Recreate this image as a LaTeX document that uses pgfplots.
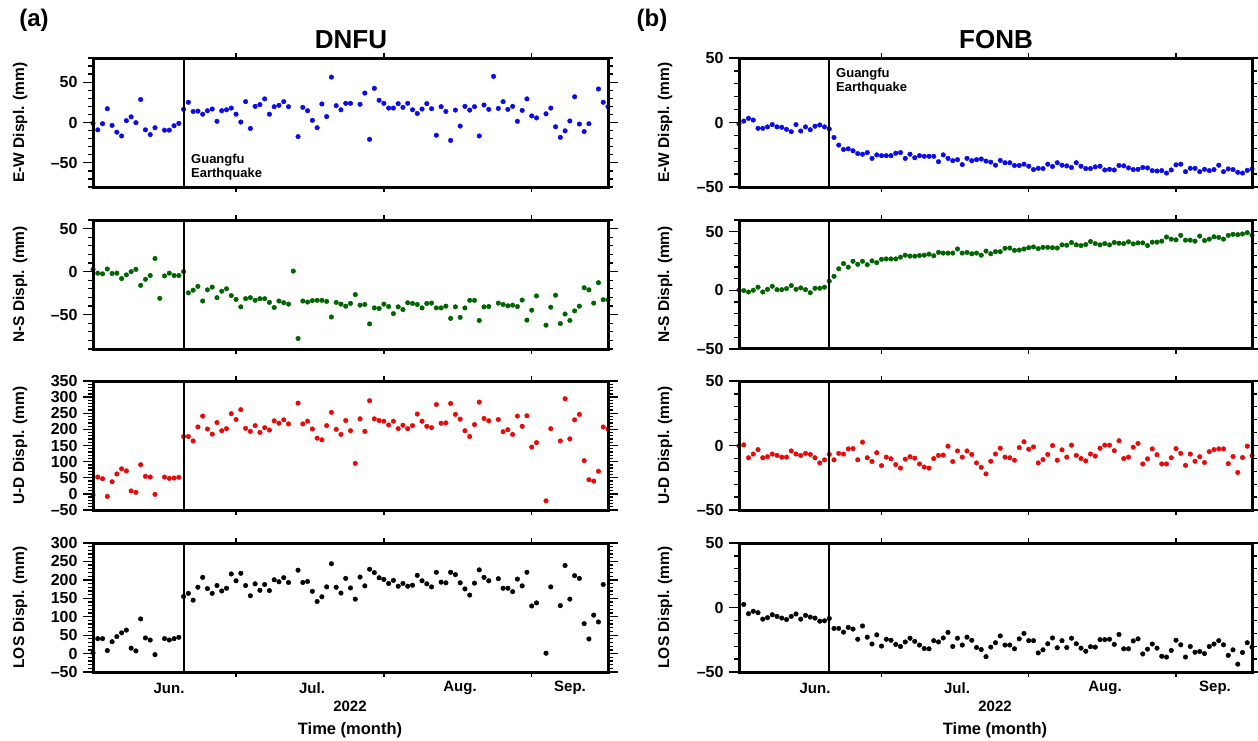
\documentclass[border=0pt]{standalone}
\usepackage{fontspec}
\setmainfont{Liberation Sans}
\usepackage{pgfplots}
\pgfplotsset{compat=1.18}
\definecolor{gblue}{RGB}{10,10,235}
\definecolor{ggreen}{RGB}{0,100,0}
\definecolor{gred}{RGB}{230,10,10}
\pgfplotsset{
  panel/.style={
    scale only axis, height=129pt, xmin=0, xmax=108,
    axis on top, clip mode=individual,
    axis line style={line width=3pt},
    tick align=outside, major tick length=10pt, minor tick length=5pt,
    tick style={black, line width=1.3pt},
    xtick=\empty,
    extra x ticks={30,61,92}, extra x tick labels={},
    extra x tick style={major tick length=5pt, tick style={black, line width=1.3pt}},
    yticklabel style={font=\fontsize{16}{16}\selectfont\bfseries, xshift=-2pt},
    ylabel style={font=\fontsize{15.5}{16}\selectfont\bfseries},
  },
  leftpanel/.style={panel, width=515pt, ylabel style={at={(axis description cs:-0.1417,0.5)}, anchor=center}},
  rightpanel/.style={panel, width=513pt, ylabel style={at={(axis description cs:-0.1442,0.5)}, anchor=center}},
  mk/.style={only marks, mark=*, mark size=2.3pt, color=#1, mark options={fill=#1, draw=#1}},
  eq/.style={black, line width=2pt, mark=none, forget plot},
}
\newcommand{\mon}{\fontsize{15}{15}\selectfont\bfseries}
\begin{document}
\begin{tikzpicture}
\useasboundingbox (0,0) rectangle (1258pt,-740pt);
% ---------------- DNFU ----------------
\begin{axis}[leftpanel, at={(93pt,-58pt)}, anchor=north west, ymin=-80, ymax=80,
  ytick={-50,0,50}, yticklabels={–50,0,50}, minor ytick={-80,-70,...,80}, ylabel={E-W Displ. (mm)}]
\addplot[mk=gblue] coordinates {(0,-1.1)(1,-9.1)(2,-1.5)(3,17.1)(4,-3.6)(5,-12.0)(6,-16.7)(7,2.3)(8,7.0)(9,-0.2)(10,28.5)(11,-9.1)(12,-15.0)(13,-6.5)(15,-9.5)(16,-9.5)(17,-4.0)(18,-1.1)(19,16.3)(20,25.1)(21,13.7)(22,14.1)(23,10.3)(24,14.6)(25,16.7)(26,1.5)(27,14.6)(28,15.8)(29,17.9)(30,10.3)(31,0.6)(32,25.9)(33,-7.4)(34,20.0)(35,22.2)(36,29.3)(37,10.3)(38,19.6)(39,21.3)(40,25.9)(41,19.6)(43,-17.5)(44,18.8)(45,14.6)(46,2.7)(47,-6.5)(48,23.0)(49,7.4)(50,56.3)(51,20.9)(52,15.8)(53,23.8)(54,23.8)(56,22.6)(57,36.5)(58,-20.9)(59,42.4)(60,27.6)(61,23.8)(62,17.9)(63,17.9)(64,23.4)(65,18.8)(66,23.8)(67,15.8)(68,11.2)(69,16.7)(70,23.4)(71,17.1)(72,-15.8)(73,19.6)(74,13.7)(75,-22.2)(76,15.4)(77,-4.4)(78,20.0)(79,15.4)(80,19.6)(81,-16.7)(82,21.7)(83,16.3)(84,57.2)(85,17.5)(86,25.9)(87,16.3)(88,20.0)(89,1.5)(90,15.0)(91,29.3)(92,8.2)(93,5.7)(95,10.8)(96,17.9)(97,-5.3)(98,-18.4)(99,-10.3)(100,1.9)(101,31.9)(102,-1.9)(103,-11.2)(104,-1.5)(106,41.6)(107,25.1)(108,19.6)};
\addplot[eq] coordinates {(19,-80)(19,80)};
\end{axis}
\begin{axis}[leftpanel, at={(93pt,-220pt)}, anchor=north west, ymin=-90, ymax=60,
  ytick={-50,0,50}, yticklabels={–50,0,50}, minor ytick={-90,-80,...,60}, ylabel={N-S Displ. (mm)}]
\addplot[mk=ggreen] coordinates {(0,2.6)(1,-1.8)(2,-2.6)(3,3.0)(4,-2.2)(5,-1.8)(6,-8.1)(7,-3.8)(8,0.0)(9,2.6)(10,-16.0)(11,-8.9)(12,-4.5)(13,15.2)(14,-31.1)(15,-5.0)(16,-1.8)(17,-4.5)(18,-4.5)(19,0.0)(20,-24.7)(21,-21.6)(22,-17.2)(23,-34.2)(24,-21.2)(25,-18.0)(26,-30.3)(27,-22.8)(28,-20.0)(29,-27.9)(30,-32.3)(31,-41.0)(32,-31.5)(33,-30.3)(34,-33.4)(35,-31.5)(36,-31.5)(37,-35.8)(38,-41.8)(39,-34.2)(40,-36.2)(41,-37.8)(42,0.6)(43,-77.8)(44,-34.2)(45,-35.4)(46,-33.8)(47,-33.4)(48,-33.4)(49,-34.6)(50,-52.8)(51,-35.8)(52,-37.8)(53,-40.2)(54,-37.0)(55,-26.7)(56,-39.0)(57,-38.2)(58,-60.8)(59,-42.2)(60,-42.9)(61,-37.8)(62,-40.6)(63,-48.9)(64,-41.0)(65,-44.1)(66,-36.2)(67,-37.0)(68,-38.2)(69,-42.2)(70,-37.0)(71,-36.6)(72,-42.2)(73,-42.2)(74,-40.2)(75,-54.4)(76,-41.0)(77,-53.2)(78,-42.2)(79,-33.4)(80,-33.4)(81,-56.8)(82,-41.0)(83,-40.6)(85,-36.6)(86,-38.2)(87,-39.8)(88,-39.0)(89,-40.6)(90,-33.1)(91,-56.4)(92,-44.9)(93,-28.3)(95,-62.3)(96,-41.4)(97,-27.5)(98,-60.4)(99,-49.3)(100,-56.8)(101,-45.7)(102,-40.2)(103,-18.8)(104,-21.2)(105,-36.6)(106,-12.9)(107,-32.7)(108,-32.7)};
\addplot[eq] coordinates {(19,-90)(19,60)};
\end{axis}
\begin{axis}[leftpanel, at={(93pt,-381pt)}, anchor=north west, ymin=-50, ymax=350,
  ytick={-50,0,...,350}, yticklabels={–50,0,50,100,150,200,250,300,350}, minor ytick={-50,-40,...,350}, ylabel={U-D Displ. (mm)}]
\addplot[mk=gred] coordinates {(0,-3.6)(1,52.3)(2,47.1)(3,-7.8)(4,37.6)(5,61.8)(6,77.7)(7,71.3)(8,9.1)(9,4.8)(10,90.3)(11,54.5)(12,52.3)(13,-1.5)(15,52.3)(16,48.1)(17,49.2)(18,51.3)(19,177.9)(20,177.9)(21,164.2)(22,207.5)(23,241.3)(24,201.2)(25,185.3)(26,221.2)(27,195.9)(28,202.2)(29,248.7)(30,230.7)(31,261.3)(32,203.3)(33,193.8)(34,211.7)(35,190.6)(36,205.4)(37,198.0)(38,226.5)(39,219.1)(40,229.7)(41,217.0)(43,281.4)(44,217.0)(45,225.4)(46,201.2)(47,172.7)(48,167.4)(49,211.7)(50,252.9)(51,200.1)(52,184.3)(53,227.5)(54,195.9)(55,94.6)(56,232.8)(57,193.8)(58,288.8)(59,232.8)(60,227.5)(61,225.4)(62,213.8)(63,225.4)(64,202.2)(65,212.8)(66,202.2)(67,211.7)(68,247.6)(69,225.4)(70,209.6)(71,205.4)(72,277.1)(73,219.1)(74,220.2)(75,280.3)(76,246.5)(77,231.8)(78,195.9)(79,177.9)(80,214.9)(81,284.5)(82,233.9)(83,226.5)(85,230.7)(86,192.7)(87,199.0)(88,184.3)(89,241.3)(90,209.6)(91,242.3)(92,145.2)(93,158.9)(95,-21.5)(96,202.2)(98,164.2)(99,295.1)(100,170.6)(101,229.7)(102,246.5)(103,103.0)(104,43.9)(105,39.7)(106,70.3)(107,207.5)(108,201.2)};
\addplot[eq] coordinates {(19,-50)(19,350)};
\end{axis}
\begin{axis}[leftpanel, at={(93pt,-543pt)}, anchor=north west, ymin=-50, ymax=300,
  ytick={-50,0,...,300}, yticklabels={–50,0,50,100,150,200,250,300}, minor ytick={-50,-40,...,300}, ylabel={LOS Displ. (mm)}]
\addplot[mk=black] coordinates {(0,1.9)(1,40.5)(2,40.5)(3,8.2)(4,32.2)(5,46.1)(6,56.2)(7,63.6)(8,14.7)(9,7.3)(10,94.1)(11,42.4)(12,36.8)(13,-2.9)(15,40.5)(16,36.8)(17,40.5)(18,44.2)(19,155.0)(20,163.4)(21,144.9)(22,180.0)(23,206.8)(24,176.3)(25,163.4)(26,184.6)(27,169.8)(28,177.2)(29,216.0)(30,197.5)(31,217.8)(32,184.6)(33,156.9)(34,189.2)(35,171.7)(36,187.4)(37,170.8)(38,200.3)(39,194.8)(40,205.8)(41,192.9)(43,226.2)(44,192.9)(45,195.7)(46,168.9)(47,141.2)(48,154.1)(49,180.9)(50,243.7)(51,180.0)(52,164.3)(53,204.0)(54,178.1)(55,147.7)(56,207.7)(57,183.7)(58,228.9)(59,219.7)(60,205.8)(61,201.2)(62,190.2)(63,198.5)(64,182.8)(65,190.2)(66,182.8)(67,185.5)(68,212.3)(69,197.5)(70,189.2)(71,180.9)(72,220.6)(73,193.8)(74,192.0)(75,220.6)(76,214.2)(77,192.0)(78,175.4)(79,158.8)(80,191.1)(81,227.1)(82,206.8)(83,197.5)(85,203.1)(86,177.2)(87,177.2)(88,168.0)(89,202.2)(90,183.7)(91,220.6)(92,129.2)(93,137.5)(95,1.0)(96,180.9)(98,130.1)(99,239.1)(100,147.7)(101,211.4)(102,204.0)(103,81.2)(104,39.6)(105,104.3)(106,85.8)(107,187.4)};
\addplot[eq] coordinates {(19,-50)(19,300)};
\end{axis}
% ---------------- FONB ----------------
\begin{axis}[rightpanel, at={(739pt,-58pt)}, anchor=north west, ymin=-50, ymax=50,
  ytick={-50,0,50}, yticklabels={–50,0,50}, minor ytick={-50,-40,...,50}, ylabel={E-W Displ. (mm)}]
\addplot[mk=gblue] coordinates {(0,-1.1)(1,1.1)(2,3.2)(3,1.9)(4,-4.5)(5,-4.5)(6,-3.4)(7,-1.6)(8,-3.4)(9,-3.7)(10,-5.3)(11,-7.1)(12,-1.6)(13,-6.6)(14,-3.4)(15,-5.6)(16,-2.9)(17,-1.9)(18,-3.4)(19,-5.0)(20,-11.6)(21,-17.5)(22,-20.9)(23,-20.4)(24,-21.9)(25,-24.1)(26,-24.6)(27,-23.3)(28,-27.8)(29,-25.1)(30,-25.7)(31,-25.7)(32,-25.7)(33,-23.8)(34,-23.3)(35,-27.8)(36,-24.6)(37,-27.3)(38,-25.7)(39,-26.2)(40,-26.2)(41,-26.2)(42,-30.4)(43,-25.1)(44,-27.8)(45,-29.6)(46,-28.8)(47,-32.6)(48,-27.8)(49,-29.6)(50,-28.8)(51,-28.3)(52,-29.9)(53,-30.7)(54,-33.1)(55,-29.4)(56,-31.2)(57,-31.2)(58,-33.3)(59,-33.3)(60,-32.3)(61,-33.9)(62,-36.5)(63,-35.5)(64,-35.7)(65,-32.3)(66,-34.1)(67,-31.2)(68,-33.1)(69,-33.6)(70,-34.9)(71,-31.2)(72,-33.9)(73,-35.7)(74,-35.7)(75,-34.4)(76,-33.9)(77,-36.8)(78,-36.3)(79,-36.8)(80,-33.3)(81,-33.6)(82,-35.2)(83,-36.5)(84,-36.3)(85,-34.9)(86,-35.2)(87,-37.3)(88,-37.6)(89,-37.3)(90,-39.2)(91,-36.8)(92,-32.8)(93,-32.3)(94,-38.1)(95,-35.5)(96,-35.5)(97,-38.1)(98,-36.3)(99,-37.3)(100,-36.5)(101,-33.1)(102,-38.1)(103,-36.0)(104,-36.5)(105,-38.6)(106,-39.2)(107,-37.1)(108,-36.0)};
\addplot[eq] coordinates {(19,-50)(19,50)};
\end{axis}
\begin{axis}[rightpanel, at={(739pt,-220pt)}, anchor=north west, ymin=-50, ymax=60,
  ytick={-50,0,50}, yticklabels={–50,0,50}, minor ytick={-50,-40,...,60}, ylabel={N-S Displ. (mm)}]
\addplot[mk=ggreen] coordinates {(0,0.4)(1,-0.2)(2,-1.4)(3,0.1)(4,2.7)(5,-1.4)(6,0.9)(7,3.5)(8,0.6)(9,0.6)(10,1.5)(11,4.1)(12,0.9)(13,2.1)(14,0.6)(15,-2.0)(16,1.8)(17,1.8)(18,2.7)(19,7.9)(20,12.0)(21,18.4)(22,22.8)(23,19.8)(24,24.8)(25,22.2)(26,24.8)(27,21.9)(28,25.1)(29,23.6)(30,26.5)(31,26.8)(32,26.8)(33,26.8)(34,28.3)(35,30.0)(36,29.2)(37,29.2)(38,29.7)(39,30.0)(40,30.9)(41,29.5)(42,32.4)(43,31.8)(44,31.8)(45,31.8)(46,35.3)(47,31.8)(48,32.4)(49,31.2)(50,31.8)(51,30.0)(52,33.5)(53,31.2)(54,33.0)(55,33.0)(56,35.9)(57,36.1)(58,34.1)(59,34.4)(60,35.3)(61,36.4)(62,37.0)(63,35.6)(64,36.7)(65,36.7)(66,36.4)(67,36.1)(68,38.8)(69,38.5)(70,40.8)(71,38.8)(72,38.2)(73,39.1)(74,41.7)(75,39.9)(76,38.8)(77,39.9)(78,38.8)(79,40.8)(80,40.2)(81,39.9)(82,41.4)(83,39.6)(84,40.5)(85,40.5)(86,38.2)(87,41.1)(88,41.1)(89,42.0)(90,45.5)(91,43.7)(92,43.1)(93,46.9)(94,42.8)(95,42.8)(96,42.0)(97,46.3)(98,42.5)(99,43.7)(100,45.7)(101,45.2)(102,43.7)(103,46.9)(104,47.8)(105,47.5)(106,48.1)(107,49.2)(108,46.9)};
\addplot[eq] coordinates {(19,-50)(19,60)};
\end{axis}
\begin{axis}[rightpanel, at={(739pt,-381pt)}, anchor=north west, ymin=-50, ymax=50,
  ytick={-50,0,50}, yticklabels={–50,0,50}, minor ytick={-50,-40,...,50}, ylabel={U-D Displ. (mm)}]
\addplot[mk=gred] coordinates {(0,-0.3)(1,0.5)(2,-9.5)(3,-6.6)(4,-3.2)(5,-9.5)(6,-8.7)(7,-6.6)(8,-7.7)(9,-9.0)(10,-9.0)(11,-4.2)(12,-6.6)(13,-7.7)(14,-6.1)(15,-6.9)(16,-9.5)(17,-13.5)(18,-11.1)(19,-6.9)(20,-11.1)(21,-6.1)(22,-6.6)(23,-2.6)(24,-2.4)(25,-11.1)(26,2.6)(27,-9.5)(28,-12.4)(29,-5.6)(30,-15.6)(31,-9.0)(32,-10.3)(33,-14.8)(34,-17.5)(35,-10.6)(36,-8.7)(37,-9.8)(38,-14.3)(39,-16.7)(40,-17.5)(41,-10.1)(42,-7.7)(43,-7.4)(44,-0.5)(45,-12.4)(46,-4.2)(47,-9.0)(48,-4.2)(49,-6.9)(50,-13.5)(51,-16.9)(52,-22.0)(53,-12.2)(54,-6.6)(55,-2.1)(56,-9.0)(57,-9.5)(58,-11.4)(59,-1.6)(60,2.9)(61,-2.9)(62,-1.1)(63,-13.5)(64,-10.9)(65,-6.9)(66,0.0)(67,-11.4)(68,-3.4)(69,-9.0)(70,0.3)(71,-7.7)(72,-10.1)(73,-11.9)(74,-6.6)(75,-8.2)(76,-2.1)(77,0.3)(78,0.3)(79,-4.0)(80,3.7)(81,-10.1)(82,-9.0)(83,-1.3)(84,1.6)(85,-14.3)(86,-10.3)(87,-2.6)(88,-7.1)(89,-14.3)(90,-14.3)(91,-9.5)(92,-2.4)(93,-6.1)(94,-15.4)(95,-6.6)(96,-12.2)(97,-8.7)(98,-13.2)(99,-4.8)(100,-3.2)(101,-2.6)(102,-2.6)(103,-14.0)(104,-8.5)(105,-20.9)(106,-9.3)(107,-0.5)(108,-7.9)};
\addplot[eq] coordinates {(19,-50)(19,50)};
\end{axis}
\begin{axis}[rightpanel, at={(739pt,-543pt)}, anchor=north west, ymin=-50, ymax=50,
  ytick={-50,0,50}, yticklabels={–50,0,50}, minor ytick={-50,-40,...,50}, ylabel={LOS Displ. (mm)}]
\addplot[mk=black] coordinates {(1,2.4)(2,-4.8)(3,-2.9)(4,-4.0)(5,-9.0)(6,-7.9)(7,-5.6)(8,-6.9)(9,-8.2)(10,-9.3)(11,-6.9)(12,-5.0)(13,-9.0)(14,-6.1)(15,-7.4)(16,-8.2)(17,-10.6)(18,-10.3)(19,-8.5)(20,-16.2)(21,-16.2)(22,-19.1)(23,-15.4)(24,-16.7)(25,-24.6)(26,-14.3)(27,-23.0)(28,-28.3)(29,-21.2)(30,-29.9)(31,-24.6)(32,-25.4)(33,-28.6)(34,-30.2)(35,-26.7)(36,-23.8)(37,-26.2)(38,-29.1)(39,-31.8)(40,-32.0)(41,-25.7)(42,-26.7)(43,-23.6)(44,-19.3)(45,-30.2)(46,-23.8)(47,-29.1)(48,-23.0)(49,-25.4)(50,-31.0)(51,-32.6)(52,-38.1)(53,-30.7)(54,-27.3)(55,-22.0)(56,-29.1)(57,-29.1)(58,-32.0)(59,-24.3)(60,-20.1)(61,-25.7)(62,-25.7)(63,-35.2)(64,-32.8)(65,-28.1)(66,-23.6)(67,-31.2)(68,-25.7)(69,-31.0)(70,-23.8)(71,-28.1)(72,-31.5)(73,-33.9)(74,-30.4)(75,-30.7)(76,-24.9)(77,-24.9)(78,-24.6)(79,-28.6)(80,-20.9)(81,-32.0)(82,-32.0)(83,-25.9)(84,-24.3)(85,-36.0)(86,-32.3)(87,-28.3)(88,-31.5)(89,-37.8)(90,-38.4)(91,-33.3)(92,-25.4)(93,-28.9)(94,-38.4)(95,-30.2)(96,-34.7)(97,-34.1)(98,-35.7)(99,-30.2)(100,-28.3)(101,-25.7)(102,-28.9)(103,-37.1)(104,-32.8)(105,-43.9)(106,-34.9)(107,-27.3)(108,-30.7)};
\addplot[eq] coordinates {(19,-50)(19,50)};
\end{axis}
% ---------------- month labels (absolute positions) ----------------
\foreach \x/\t in {169/Jun., 312/Jul., 460/Aug., 570/Sep.} {\node[font=\mon] at (\x pt,-688pt) {\t};}
\foreach \x/\t in {815/Jun., 957/Jul., 1105/Aug., 1215/Sep.} {\node[font=\mon] at (\x pt,-688pt) {\t};}
\node[font=\mon] at (350pt,-706pt) {2022};
\node[font=\mon] at (995pt,-706pt) {2022};
\node[font=\fontsize{16.5}{17}\selectfont\bfseries] at (350pt,-730pt) {Time (month)};
\node[font=\fontsize{16.5}{17}\selectfont\bfseries] at (995pt,-730pt) {Time (month)};
% ---------------- titles and notes ----------------
\node[font=\fontsize{24}{24}\selectfont\bfseries] at (34pt,-20pt) {(a)};
\node[font=\fontsize{24}{24}\selectfont\bfseries] at (652pt,-20pt) {(b)};
\node[font=\fontsize{26}{26}\selectfont\bfseries] at (351pt,-40pt) {DNFU};
\node[font=\fontsize{26}{26}\selectfont\bfseries] at (996pt,-40pt) {FONB};
\node[anchor=west, align=left, inner sep=0pt, font=\fontsize{13}{14.5}\selectfont\bfseries] at (191pt,-167pt) {Guangfu\\Earthquake};
\node[anchor=west, align=left, inner sep=0pt, font=\fontsize{13}{14.5}\selectfont\bfseries] at (836pt,-81pt) {Guangfu\\Earthquake};
\end{tikzpicture}
\end{document}
